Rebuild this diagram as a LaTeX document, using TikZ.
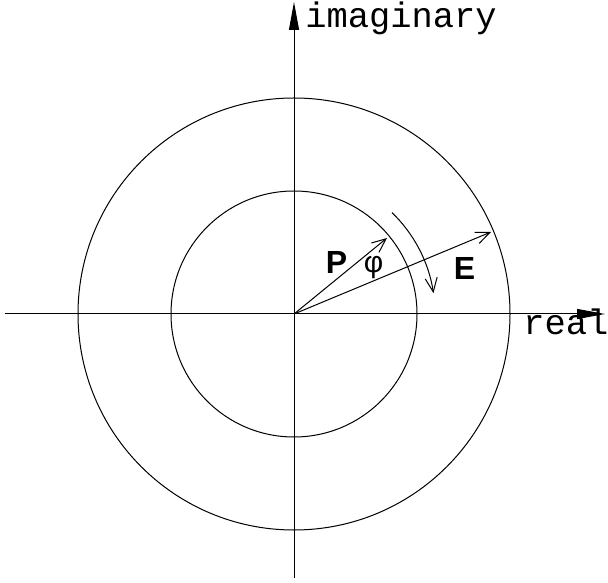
\documentclass[tikz,border=0pt]{standalone}
\usepackage{fontspec}
\setmainfont{Liberation Serif}
\setsansfont{Liberation Sans}
\setmonofont{Liberation Mono}
\usetikzlibrary{arrows.meta}

\tikzset{
  axis/.style={line width=0.5pt,-{Triangle[length=14pt,width=5pt]}},
  phasor/.style={line width=0.5pt,-{Straight Barb[length=7pt,width=6pt]}},
  axlabel/.style={font=\fontsize{17.7}{20}\selectfont\ttfamily,inner sep=0pt},
  veclabel/.style={font=\fontsize{16}{18}\selectfont\sffamily\bfseries,inner sep=0pt}
}

\begin{document}
\begin{tikzpicture}[x=0.5pt,y=0.5pt]
 \useasboundingbox (-294,-268) rectangle (314,314);
 \coordinate (O) at (0,0);
 \coordinate (xl) at (-289,0);
 \coordinate (xr) at (311,0);
 \coordinate (yb) at (0,-264);
 \coordinate (yt) at (0,312);
 \coordinate (Ptip) at (93,76);
 \coordinate (Etip) at (197,82);
 % axes
 \draw[axis] (xl) -- (xr);
 \draw[axis] (yb) -- (yt);
 \node[axlabel,anchor=base west] (imlab) at (11,286) {imaginary};
 \node[axlabel,anchor=base west] (relab) at (229,-21) {real};
 % circles
 \draw[line width=0.5pt] (O) circle[radius=123];
 \draw[line width=0.5pt] (O) circle[radius=216];
 % phasors
 \draw[phasor] (O) -- (Ptip);
 \draw[phasor] (O) -- (Etip);
 \draw[phasor] (46:141) arc[start angle=46,end angle=8.5,radius=141];
 \node[veclabel] (Plab) at (42.5,51.5) {P};
 \node[veclabel] (Elab) at (170.5,45.5) {E};
 \node[font=\fontsize{15}{18}\selectfont\sffamily,inner sep=0pt] (philab) at (79.5,46) {φ};
\end{tikzpicture}
\end{document}
